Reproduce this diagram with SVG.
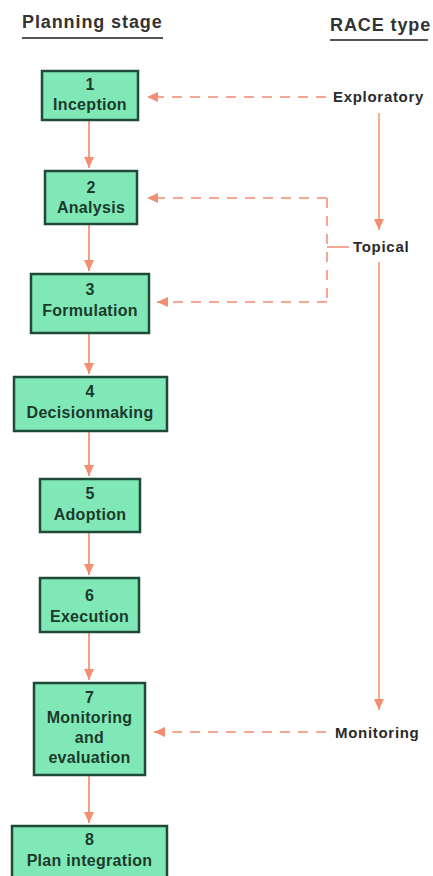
<svg xmlns="http://www.w3.org/2000/svg" width="433" height="876" viewBox="0 0 433 876">
  <style>
    .hdr { font-family: "Liberation Sans", Arial, sans-serif; font-weight: bold; font-size: 18px; letter-spacing: 0.9px; fill: #333; }
    .rule { stroke: #555; stroke-width: 2; }
    .box { fill: #80e8b7; stroke: #1f4a38; stroke-width: 2.5; }
    .lbl { font-family: "Liberation Sans", Arial, sans-serif; font-weight: bold; font-size: 16px; letter-spacing: 0.3px; fill: #1c3a2c; text-anchor: middle; }
    .race { font-family: "Liberation Sans", Arial, sans-serif; font-weight: bold; font-size: 15px; letter-spacing: 0.7px; fill: #2a2a2a; }
    .flow { stroke: #f2a08c; stroke-width: 2; fill: none; }
    .dash { stroke: #f4a894; stroke-width: 2; fill: none; stroke-dasharray: 10 8; }
    .feed { stroke: #f2b08a; stroke-width: 2; fill: none; }
  </style>
  <defs>
    <marker id="head" markerUnits="userSpaceOnUse" markerWidth="11" markerHeight="10" refX="11" refY="5" orient="auto">
      <path d="M0,0 L11,5 L0,10 z" fill="#f28f70"/>
    </marker>
  </defs>

  <rect width="433" height="876" fill="#ffffff"/>

  <!-- column headings -->
  <g id="headings">
    <text class="hdr" x="22" y="28">Planning stage</text>
    <line class="rule" x1="22" y1="38" x2="163" y2="38"/>
    <text class="hdr" x="330" y="31">RACE type</text>
    <line class="rule" x1="330" y1="40" x2="428" y2="40"/>
  </g>

  <!-- connectors -->
  <g id="connectors">
    <!-- stage sequence -->
    <line class="flow" x1="89" y1="120" x2="89" y2="168" marker-end="url(#head)"/>
    <line class="flow" x1="89" y1="224" x2="89" y2="271" marker-end="url(#head)"/>
    <line class="flow" x1="89" y1="333" x2="89" y2="374" marker-end="url(#head)"/>
    <line class="flow" x1="89" y1="431" x2="89" y2="476" marker-end="url(#head)"/>
    <line class="flow" x1="89" y1="532" x2="89" y2="575" marker-end="url(#head)"/>
    <line class="flow" x1="89" y1="632" x2="89" y2="680" marker-end="url(#head)"/>
    <line class="flow" x1="89" y1="775" x2="89" y2="823" marker-end="url(#head)"/>

    <!-- RACE type sequence -->
    <line class="feed" x1="379" y1="113" x2="379" y2="230" marker-end="url(#head)"/>
    <line class="feed" x1="379" y1="262" x2="379" y2="710" marker-end="url(#head)"/>

    <!-- RACE type to stage -->
    <line class="dash" x1="326" y1="97" x2="147" y2="97" marker-end="url(#head)"/>
    <line class="dash" x1="349" y1="247" x2="327" y2="247" style="stroke-dasharray:none"/>
    <line class="dash" x1="327" y1="198" x2="327" y2="302"/>
    <line class="dash" x1="327" y1="198" x2="147" y2="198" marker-end="url(#head)"/>
    <line class="dash" x1="327" y1="302" x2="157" y2="302" marker-end="url(#head)"/>
    <line class="dash" x1="326" y1="732" x2="154" y2="732" marker-end="url(#head)"/>
  </g>

  <!-- RACE type labels -->
  <g id="race-exploratory"><text class="race" x="333" y="102">Exploratory</text></g>
  <g id="race-topical"><text class="race" x="353" y="252">Topical</text></g>
  <g id="race-monitoring"><text class="race" x="335" y="738">Monitoring</text></g>

  <!-- planning stages -->
  <g id="stage-1">
    <rect class="box" x="42" y="71" width="96" height="49"/>
    <text class="lbl" x="90" y="90">1</text>
    <text class="lbl" x="90" y="110">Inception</text>
  </g>
  <g id="stage-2">
    <rect class="box" x="45" y="171" width="92" height="53"/>
    <text class="lbl" x="91" y="193">2</text>
    <text class="lbl" x="91" y="213">Analysis</text>
  </g>
  <g id="stage-3">
    <rect class="box" x="31" y="274" width="118" height="59"/>
    <text class="lbl" x="90" y="295">3</text>
    <text class="lbl" x="90" y="316">Formulation</text>
  </g>
  <g id="stage-4">
    <rect class="box" x="14" y="377" width="153" height="54"/>
    <text class="lbl" x="90" y="397">4</text>
    <text class="lbl" x="90" y="418">Decisionmaking</text>
  </g>
  <g id="stage-5">
    <rect class="box" x="40" y="479" width="100" height="53"/>
    <text class="lbl" x="90" y="499">5</text>
    <text class="lbl" x="90" y="520">Adoption</text>
  </g>
  <g id="stage-6">
    <rect class="box" x="40" y="578" width="99" height="54"/>
    <text class="lbl" x="89.5" y="601">6</text>
    <text class="lbl" x="89.5" y="622">Execution</text>
  </g>
  <g id="stage-7">
    <rect class="box" x="34" y="683" width="111" height="92"/>
    <text class="lbl" x="89.5" y="703">7</text>
    <text class="lbl" x="89.5" y="723">Monitoring</text>
    <text class="lbl" x="89.5" y="743">and</text>
    <text class="lbl" x="89.5" y="763">evaluation</text>
  </g>
  <g id="stage-8">
    <rect class="box" x="12" y="826" width="155" height="56"/>
    <text class="lbl" x="89.5" y="845">8</text>
    <text class="lbl" x="89.5" y="866">Plan integration</text>
  </g>
</svg>
